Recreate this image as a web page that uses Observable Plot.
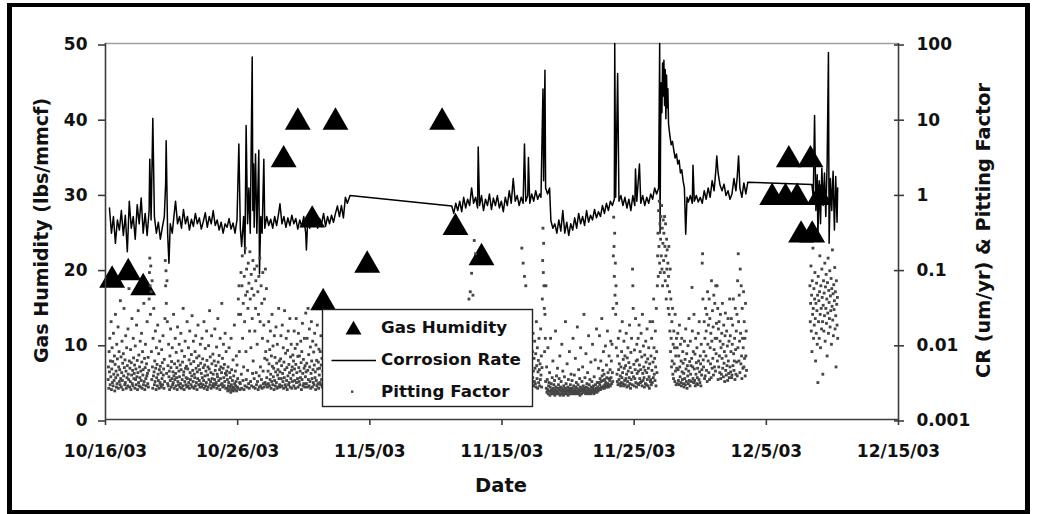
<!DOCTYPE html>
<html><head><meta charset="utf-8">
<script src="https://cdn.jsdelivr.net/npm/d3@7"></script>
<script src="https://cdn.jsdelivr.net/npm/@observablehq/plot@0.6"></script>
<style>
body{margin:0;background:#fff;}
#wrap{position:relative;width:1037px;height:514px;overflow:hidden;background:#fff;}
#chart{position:absolute;left:0;top:0;}
#frame{position:absolute;left:7px;top:3px;width:1023px;height:511px;border-style:solid;border-color:#000;border-width:4px 5px 4px 5px;box-sizing:border-box;pointer-events:none;}
</style></head><body>
<div id="wrap"><div id="chart"></div><div id="frame"></div></div>
<script>
// ---------- data ----------
// days are offsets from 10/16/03
const xTickDays = [0, 10, 20, 30, 40, 50, 60];
const xTickLabels = ["10/16/03","10/26/03","11/5/03","11/15/03","11/25/03","12/5/03","12/15/03"];
const leftTicks = [0, 10, 20, 30, 40, 50];
const rightTickLabels = ["0.001","0.01","0.1","1","10","100"];
const rightTickValues = [0.001, 0.01, 0.1, 1, 10, 100];

// Gas Humidity (lbs/mmcf)
const gasDay   = [0.5, 1.72, 2.85, 13.48, 14.55, 15.64, 16.47, 17.4, 19.8, 25.47, 26.48, 28.45, 50.44, 51.45, 51.7, 52.33, 52.63, 53.34, 53.47, 54.02];
const gasValue = [19, 20, 18, 35, 40, 27, 16, 40, 21, 40, 26, 22, 30, 30, 35, 30, 25, 35, 25, 30];

// Corrosion Rate (um/yr): [day, value]
const corrosion = [
[0.3,0.65],[0.45,0.3],[0.6,0.5],[0.75,0.22],[0.9,0.45],[1.05,0.33],[1.2,0.6],[1.35,0.28],[1.5,0.52],[1.65,0.17],[1.8,0.8],[1.95,0.35],[2.1,0.5],[2.25,0.25],[2.4,0.72],[2.55,0.4],[2.7,0.88],[2.85,0.3],[3.0,0.55],[3.15,0.28],[3.3,0.6],[3.35,2.9],[3.45,0.45],[3.58,10.1],[3.7,0.5],[3.85,0.3],[4.0,0.42],[4.15,0.25],[4.3,0.36],[4.45,0.5],[4.55,1.37],[4.59,5.1],[4.7,0.3],[4.8,0.12],[4.9,0.4],[5.05,0.3],[5.2,0.55],[5.3,0.8],[5.45,0.4],[5.6,0.5],[5.75,0.35],[5.9,0.62],[6.05,0.4],[6.2,0.5],[6.35,0.33],[6.5,0.46],[6.65,0.37],[6.8,0.55],[6.95,0.4],[7.1,0.48],[7.25,0.34],[7.4,0.43],[7.55,0.56],[7.7,0.36],[7.85,0.5],[8.0,0.4],[8.15,0.6],[8.3,0.38],[8.45,0.45],[8.6,0.33],[8.75,0.42],[8.9,0.3],[9.05,0.4],[9.2,0.36],[9.35,0.47],[9.5,0.34],[9.65,0.41],[9.8,0.3],[9.95,0.45],[10.09,4.6],[10.2,0.35],[10.3,0.2],[10.45,0.5],[10.55,0.16],[10.64,8.1],[10.75,0.4],[10.85,1.2],[10.95,0.3],[11.1,66],[11.15,0.6],[11.2,2.5],[11.25,0.36],[11.35,3.4],[11.45,0.3],[11.6,3.8],[11.65,0.087],[11.75,0.5],[11.85,0.3],[11.98,2.9],[12.05,0.35],[12.2,0.5],[12.35,0.38],[12.5,0.46],[12.65,0.35],[12.8,0.5],[12.95,0.38],[13.1,0.55],[13.2,0.74],[13.35,0.4],[13.5,0.5],[13.65,0.36],[13.8,0.48],[13.95,0.38],[14.1,0.52],[14.25,0.4],[14.4,0.47],[14.55,0.34],[14.7,0.45],[14.85,0.37],[15.0,0.5],[15.15,0.3],[15.2,0.18],[15.3,0.45],[15.45,0.35],[15.6,0.55],[15.75,0.38],[15.9,0.5],[16.05,0.35],[16.2,0.47],[16.35,0.4],[16.5,0.55],[16.65,0.37],[16.8,0.5],[16.95,0.4],[17.1,0.52],[17.25,0.42],[17.4,0.55],[17.55,0.69],[17.7,0.5],[17.85,0.7],[18.0,0.48],[18.15,0.9],[18.3,0.75],[18.5,0.95],
[26.2,0.69],[26.35,0.55],[26.5,0.75],[26.65,0.6],[26.8,0.8],[26.95,0.58],[27.1,0.9],[27.25,0.65],[27.4,0.85],[27.55,0.7],[27.7,1.2],[27.85,0.75],[28.0,0.9],[28.15,0.65],[28.2,4.2],[28.3,0.7],[28.45,0.95],[28.6,0.6],[28.75,0.85],[28.9,0.7],[29.05,1.0],[29.2,0.62],[29.35,0.88],[29.5,0.7],[29.65,0.95],[29.8,0.65],[29.95,0.8],[30.1,0.58],[30.25,0.9],[30.4,0.7],[30.55,1.1],[30.7,0.75],[30.85,1.6],[31.0,0.8],[31.15,0.95],[31.3,0.7],[31.45,0.9],[31.6,0.75],[31.7,4.6],[31.8,0.8],[31.95,0.95],[32.0,3.05],[32.1,0.75],[32.25,1.0],[32.4,0.8],[32.55,1.1],[32.7,0.85],[32.85,1.0],[32.95,0.9],[33.05,8.6],[33.1,24.8],[33.15,1.5],[33.25,44],[33.3,1.2],[33.45,1.0],[33.6,1.2],[33.7,0.44],[33.85,0.35],[34.0,0.4],[34.15,0.3],[34.3,0.45],[34.45,0.32],[34.6,0.6],[34.75,0.3],[34.9,0.42],[35.05,0.28],[35.2,0.4],[35.35,0.33],[35.5,0.48],[35.65,0.35],[35.8,0.55],[35.95,0.4],[36.1,0.5],[36.25,0.38],[36.4,0.6],[36.55,0.42],[36.7,0.52],[36.85,0.45],[37.0,0.62],[37.15,0.48],[37.3,0.58],[37.45,0.5],[37.6,0.7],[37.75,0.55],[37.9,0.75],[38.05,0.6],[38.2,0.8],[38.35,0.7],[38.5,0.85],[38.53,100],[38.6,0.9],[38.75,40],[38.85,0.8],[39.0,0.95],[39.15,0.7],[39.3,0.9],[39.45,0.65],[39.6,0.85],[39.75,0.6],[39.9,0.95],[40.05,0.7],[40.1,2.15],[40.2,0.8],[40.4,2.5],[40.5,0.75],[40.65,0.95],[40.8,0.7],[40.95,0.9],[41.1,0.75],[41.25,1.0],[41.4,0.85],[41.55,1.2],[41.7,1.0],[41.85,1.2],[41.93,100],[41.96,0.3],[42.0,6.3],[42.05,30],[42.1,12],[42.15,55],[42.2,20],[42.25,60],[42.3,15],[42.35,45],[42.4,10],[42.45,38],[42.5,14],[42.55,25],[42.6,8.5],[42.7,6],[42.8,4.5],[42.9,5],[43.0,3.8],[43.1,3],[43.2,3.4],[43.3,2.5],[43.4,2.8],[43.5,1.9],[43.6,2.1],[43.7,1.5],[43.8,1.2],[43.9,0.29],[44.0,0.9],[44.1,0.78],[44.25,0.95],[44.4,0.75],[44.45,2.4],[44.55,0.8],[44.7,0.95],[44.85,0.78],[45.0,0.9],[45.15,0.75],[45.3,1.1],[45.45,0.85],[45.6,1.2],[45.75,0.9],[45.9,1.5],[46.05,1.1],[46.2,2.3],[46.25,3.2],[46.35,1.9],[46.5,1.3],[46.65,1.1],[46.8,1.35],[46.95,0.95],[47.1,1.1],[47.25,0.85],[47.4,1.0],[47.55,1.6],[47.7,1.1],[47.8,1.7],[47.9,3.2],[48.0,1.2],[48.15,0.9],[48.3,1.4],[48.45,1.0],[48.6,1.43],
[53.45,1.33],[53.55,0.9],[53.65,11],[53.75,0.6],[53.85,1.8],[53.9,0.27],[54.0,1.5],[54.1,0.4],[54.2,2.2],[54.3,0.7],[54.4,1.9],[54.5,0.5],[54.6,2.5],[54.7,76],[54.75,0.22],[54.85,1.6],[54.95,0.6],[55.05,2.0],[55.15,0.33],[55.25,1.7],[55.35,0.42],[55.4,1.2]
];

// Pitting Factor, in thousandths (x 0.001), regular samples
const pitting1 = [ // from day 0.2, every 0.025 day
3.4,5,2.6,8,4.3,12,2.9,6,3.7,20,2.5,4.7,9,3.1,5.9,2.8,14,4,3.3,7,2.4,5.4,25,3.6,4.4,2.7,10,3,6.4,3.9,17,2.6,5,8,3.2,4.6,2.9,38,3.5,6.8,
2.7,4.2,11,3.3,5.6,2.5,7.5,3.8,30,4.9,2.9,6.2,3.1,13,4.4,2.6,9,3.6,5.2,2.8,16,4,3.4,55,6,2.7,4.8,3.2,8.5,2.5,5.7,3.9,22,3,4.5,2.8,12,6.6,3.5,4.1,
5.3,2.6,9.5,3.4,4.7,2.9,18,3.7,6.1,2.5,4.2,28,3.1,7.2,2.8,5,3.6,11,2.7,4.4,3.3,14,5.8,2.6,8,3.9,4.6,2.9,35,3.2,6.5,2.5,4.9,10,3.5,2.8,5.5,3.8,20,4.1,
3,6.7,2.7,4.5,40,90,140,60,25,110,50,8,3.4,70,5,2.6,12,3.8,30,4.3,2.9,6,3.2,15,4.8,2.5,9,3.6,5.4,2.8,18,4,3.3,7.5,2.6,4.6,11,3.1,5.1,2.9,
4.2,2.7,8.5,3.5,5.7,2.9,13,3.9,4.7,2.6,6.3,3.2,22,130,60,95,35,4.1,70,20,3,5.2,2.8,10,3.7,4.4,2.5,7,3.3,16,4.9,2.7,5.9,3.5,9,2.9,4.3,3.1,25,3.8,
2.6,5.5,3.4,12,4.1,2.8,7.8,3.6,4.9,2.5,17,3.2,6,2.9,4.4,10,3.7,2.7,5.3,3,14,4.6,2.6,8.2,3.4,5.8,2.8,30,3.9,4.3,2.5,6.9,3.2,11,4.8,2.9,3.6,5.1,2.7,20,
3.5,4.7,2.8,9,3.1,6.2,2.6,15,4.2,3.4,5.5,2.9,7.3,3.8,24,2.7,4.5,3.2,11,5.9,2.6,4,3.6,8,2.8,13,4.8,3.1,6.6,2.5,4.3,3.5,18,5.2,2.9,7,3.3,4.6,2.7,10,
5.6,3,4.1,2.7,12,3.6,6.4,2.9,4.9,3.3,20,2.6,5.3,3.8,8.8,2.8,4.4,3.1,15,6.1,2.5,3.9,5,2.7,9.6,3.4,4.7,28,2.9,6.8,3.2,4.2,2.6,13,5.5,3.5,2.8,7.4,4,3,
2.7,6,3.4,16,4.5,2.9,5.2,3.1,9.2,2.6,4,3.7,22,5.8,2.8,3.3,7.1,4.6,2.5,12,3.5,5,2.9,4.2,35,3,6.5,2.7,4.8,10,3.6,2.8,5.4,3.2,14,4.1,2.6,8,3.9,4.4,
2.6,3.4,2.4,5,2.8,3.1,9,2.5,4.2,2.7,3.6,2.3,12,2.9,4.6,2.5,3.3,2.7,6.2,2.4,3.8,2.6,18,3,2.5,4.4,2.8,3.2,7,2.4,5.3,2.7,3.5,2.6,40,25,60,8,3.1,2.5,
3,25,90,4,2.6,60,150,12,3.3,35,5,2.5,80,20,2.8,190,45,8,3.4,100,2.7,50,4.5,30,120,3,65,2.6,15,170,40,3.2,9,85,2.8,55,22,4.1,130,6,
2.7,45,3.5,100,15,2.6,30,70,4.2,2.9,110,10,3.2,50,2.5,25,80,3.8,2.7,140,20,5,2.8,60,3.4,35,2.6,12,90,4.4,3,18,2.7,40,6.5,3.1,100,8,2.9,55,
3.6,6.2,2.7,11,4.4,3,20,5.5,2.8,8.5,3.4,15,4,2.6,7,3.2,25,5.1,2.9,9.5,3.7,4.8,2.5,13,3.3,6.7,2.8,4.3,17,3.1,5.6,2.6,10,3.9,4.6,2.7,30,3.5,6,2.9,
4.3,2.7,6.4,13,3.5,5.2,2.8,18,4.1,3.2,9,2.6,5.8,3.6,28,4.6,2.9,7.6,2.7,12,3.3,4.9,2.5,8.3,3.8,15,2.9,5.4,3.1,4.2,22,2.7,6.8,3.5,10,4.5,2.6,5,3.2,7.2,
3.9,6,2.8,15,4.7,3.3,8.8,2.6,5.4,22,3.1,4.2,10,3.5,6.9,2.7,14,4.9,3.2,7,2.9,4.4,3.6,11,5.7,2.5,8,3.4,19,4.1,2.8,6.3,3,4.8,12,2.7,5.2,3.7,26,4.3,
3,5.6,12,2.7,4.5,30,3.4,7.3,2.8,16,5,3.2,9.2,2.6,4.1,20,6,3.5,2.7,11,4.6,3.1,7.9,2.9,5.3,14,3.6,4.3,2.5,9.8,3.3,6.1,2.8,18,4.7,3,5.8,2.6,8.6,3.9,
4.8,3.1,8,2.9,13,5.3,3.4,6.5,2.7
];
const pitting1b = [ // from day 16.45, every 0.05 day
4.4,6.1,2.9,12,3.7,5,20,3.1,8.3,2.8,4.6,14,3.3,6.7,2.7,18,4.2,3,9.6,5.4,3.5,7,3.2,11,4.5,2.9,6,3.8,15,4.1,2.6,8,5.2,3.4,10,2.8,4.7,13,3.6,5.5
];
const pitting2 = [ // from day 26.3, every 0.1 day
4,8,3,15,5,2.8,10,3.5,6,20,
3.2,7,40,50,88,45,240,160,12,5,
4.4,9,3,14,6,2.9,11,4,7,3.6,
18,5,3.1,8,4.6,12,2.8,6,25,3.4,
5.5,3,10,4.2,16,2.9,7,3.8,13,5,
3.3,20,190,120,80,60,9,4,12,3.5
];
const pitting3 = [ // from day 32.25, every 0.025 day
5,2.9,8,3.6,14,4.4,2.8,6.5,3.2,11,4.8,3,7.5,2.7,20,5.2,3.5,9,2.6,4.3,6.1,3.1,12,4.6,2.8,5.5,3.4,16,3.9,7,2.7,4.9,40,130,350,90,220,60,30,8,
25,12,3.2,60,2.6,5,2.3,3.4,2.5,9,2.2,2.8,3.1,2.4,4.2,2.1,2.7,12,2.3,3,2.5,2.2,3.6,2.4,6,2.6,2.2,2.9,2.3,3.3,2.1,2.5,15,2.7,2.3,3.8,2.4,2.2,4.8,2.6,
2.3,2.9,2.2,3.5,2.5,7,2.1,2.7,2.4,3.2,2.2,10,2.6,2.3,4.4,2.5,2.1,2.8,2.4,3.7,2.2,2.6,20,2.3,3,2.5,2.2,5.5,2.4,2.7,2.1,3.4,2.5,2.3,8,2.6,2.2,2.9,2.4,4,
2.5,2.2,3.3,2.6,2.3,12,2.4,2.8,2.2,3.9,2.5,2.3,6.5,2.7,2.2,3.1,2.4,2.6,17,2.3,2.9,2.2,4.6,2.5,2.3,3.5,2.1,2.7,9,2.4,2.6,2.2,3.2,2.5,5,2.3,2.8,2.4,25,2.6,
2.3,3.6,2.5,2.2,7.5,2.7,2.4,3,2.3,4.2,2.6,2.2,13,2.5,2.9,2.3,3.4,2.4,2.2,5.8,2.7,2.5,3.2,2.3,10,2.6,2.4,2.8,2.2,3.7,2.5,2.3,6.2,2.9,2.4,2.6,16,2.3,3.1,2.5,
2.7,2.4,4.8,3.1,2.6,13,2.9,3.5,2.5,6,3.2,2.7,22,3.8,2.6,4.5,3.3,8,2.8,4,2.6,3.4,2.9,9.5,3.1,2.7,5.3,3.6,2.8,15,3,4.2,2.7,3.5,7,2.9,3.3,4.6,2.8,11,
3.6,6,3,10,4.2,3.2,30,150,490,200,80,300,45,120,25,60,9,35,4,3.2,7,2.9,12,4.6,3.4,5.5,3,15,3.8,2.8,5,3.1,8,3.6,20,4.2,3,6.3,2.8,11,
4.8,3.3,7,2.9,5.2,3.5,14,4,2.7,6.6,3.2,9,4.4,2.8,5.7,3.6,18,3,4.9,2.6,7.8,3.4,12,4.2,2.9,100,60,30,3.7,5.4,2.8,8.4,3.5,4.6,22,3.1,6,2.7,10,4.1,
6.2,3,12,4.4,2.9,18,5.3,3.5,8,3.1,4.6,14,3.2,6.8,2.8,25,4.1,3.3,9.5,5,3.6,2.7,7.2,4.5,3,11,5.8,2.9,4.2,16,3.4,6.4,2.8,4.8,9,3.7,2.6,5.5,20,3.2,
3.4,7,2.9,12,4.5,3.1,20,5.8,3.6,40,9,4,6.5,3.3,15,5,2.8,30,8,4.2,60,150,300,80,600,200,800,120,400,90,250,500,150,700,100,350,60,220,450,130,
300,90,500,200,70,400,150,40,250,100,180,60,120,30,80,200,25,50,15,100,8,40,12,5,20,6,30,4,10,3.5,15,5.5,9,3.2,25,4.4,7,2.9,12,4.8,
9,3,14,4.6,3.3,7,2.9,18,5,3.7,10,3.1,6,2.8,12,4.3,3.4,8,5.6,3,4.1,2.7,11,3.5,6.3,2.9,16,4.7,3.2,7.5,2.6,5.2,3.8,9.6,3,4.4,22,3.3,5.9,2.8,
11,4,5.2,3.2,6.5,57,15,5,3.5,8,3.1,25,4.7,3.3,7.4,2.8,12,4,5.7,3,9,3.6,4.8,2.9,14,6,3.4,20,4.3,3.1,7,5.5,2.8,10,3.9,4.6,120,160,40,6.2,
5,8,20,3.5,12,3.8,30,7,15,4.5,25,3.2,50,10,6,18,4.2,40,3.4,22,9,5.5,14,3.6,70,11,4.8,28,6.5,17,3.9,45,8.5,5,35,12,4.4,60,7.5,19,
12,60,6,30,3.4,16,5,20,7,4.2,11,25,3.5,9,4,14,6.5,35,4.8,10,3.7,18,5.6,8,3.2,13,26,4.5,7,3.9,15,5.2,9.5,3.3,22,6,4.1,11,3.6,40,
5,13,4.3,8,22,3.6,3.9,10,18,5.2,40,7.5,4.5,6,12,3.4,30,8.5,4,15,5.8,25,3.8,70,9,160,20,6,45,11,4.2,100,14,5.5,60,7,3.5,30,12,4.8,
9,50,5,20,6.5,12,3.8,35,7,15,4.5
];
const pitting4 = [ // from day 53.3, every 0.025 day
60,20,35,110,15,45,8,70,25,190,30,12,55,18,40,90,22,6,35,14,
65,28,10,45,3.1,80,20,38,12,50,150,25,9,60,30,16,100,42,20,4,
33,70,15,48,24,120,11,58,30,85,19,40,7,66,26,140,14,52,36,22,
95,17,44,28,75,10,55,32,180,21,47,13,62,29,38,105,16,50,24,5,
70,34,18,42,12
];
const pittingSegments = [
  {start: 0.2, step: 0.025, values: pitting1},
  {start: 16.45, step: 0.05, values: pitting1b},
  {start: 26.3, step: 0.1, values: pitting2},
  {start: 32.25, step: 0.025, values: pitting3},
  {start: 53.3, step: 0.025, values: pitting4}
];

// ---------- build ----------
const T0 = Date.UTC(2003, 9, 16);
const DAY = 864e5;
const dt = d => new Date(T0 + d * DAY);
// secondary (log) axis mapped onto the 0..50 primary axis: 0.001 -> 0, 100 -> 50
const logPos = v => (Math.log10(v) + 3) * 10;

const gasData = gasDay.map((d, i) => ({date: dt(d), value: gasValue[i]}));
const crData = corrosion.map(([d, v]) => ({date: dt(d), value: v}));
const pfData = pittingSegments.flatMap(s => s.values.map((v, i) => ({date: dt(s.start + i * s.step), value: v / 1000})));
const xTicks = xTickDays.map(dt);
const rightTickPos = rightTickValues.map(logPos);

const FONT = "DejaVu Sans";
const chart = Plot.plot({
  width: 1037, height: 514,
  marginLeft: 105, marginRight: 139, marginTop: 43, marginBottom: 95,
  style: {fontFamily: FONT, fontWeight: "bold", fontSize: "17px", color: "#111", background: "transparent", overflow: "visible"},
  x: {type: "utc", domain: [dt(0), dt(60)]},
  y: {domain: [0, 50]},
  marks: [
    Plot.ruleY([50], {stroke: "#a0a0a0", strokeWidth: 1.5}),
    Plot.dot(gasData, {x: "date", y: "value", symbol: "triangle", r: 9.6, fill: "#000", stroke: "none", dy: 3.6}),
    Plot.line(crData, {x: "date", y: d => logPos(d.value), stroke: "#000", strokeWidth: 1.5}),
    Plot.dot(pfData, {x: "date", y: d => logPos(d.value), symbol: "square", r: 1.6, fill: "#454545", stroke: "none"}),
    Plot.ruleX([dt(0)], {stroke: "#3c3c3c", strokeWidth: 1.6}),
    Plot.ruleX([dt(60)], {stroke: "#3c3c3c", strokeWidth: 1.6}),
    Plot.ruleY([0], {stroke: "#3c3c3c", strokeWidth: 1.6}),
    Plot.axisY({anchor: "left", ticks: leftTicks, tickSize: 7, tickPadding: 11, dy: 1.5, tickFormat: d => String(d), label: null, strokeWidth: 1.6, stroke: "#3c3c3c"}),
    Plot.axisY({anchor: "right", ticks: rightTickPos, tickSize: 10, dx: -5, tickPadding: 13, dy: 1.5,
      tickFormat: d => rightTickLabels[rightTickPos.indexOf(d)], label: null, strokeWidth: 1.6, stroke: "#3c3c3c"}),
    Plot.axisX({ticks: xTicks, tickSize: 6, tickPadding: 19.5, tickFormat: d => xTickLabels[xTicks.findIndex(t => +t === +d)], label: null, strokeWidth: 1.6, stroke: "#3c3c3c"}),
    Plot.text(["Date"], {frameAnchor: "bottom", textAnchor: "middle", dx: -1, dy: 72.5, lineAnchor: "bottom", fontSize: 19.5, fill: "#111"}),
    Plot.text(["Gas Humidity (lbs/mmcf)"], {frameAnchor: "left", textAnchor: "middle", rotate: -90, dx: -58, dy: -1, lineAnchor: "bottom", fontSize: 19, fill: "#111"}),
    Plot.text(["CR (um/yr) & Pitting Factor"], {frameAnchor: "right", textAnchor: "middle", rotate: -90, dx: 91, dy: -1, lineAnchor: "bottom", fontSize: 19.3, fill: "#111"})
  ]
});
document.getElementById("chart").appendChild(chart);

// ---------- legend ----------
const svg = d3.select(chart);
const lg = svg.append("g").attr("font-family", FONT).attr("font-weight", "bold").attr("font-size", 16.7).attr("fill", "#111").attr("text-anchor", "start");
lg.append("rect").attr("x", 322.5).attr("y", 309.5).attr("width", 210).attr("height", 97).attr("fill", "#fff").attr("stroke", "#222").attr("stroke-width", 1.4);
lg.append("path").attr("transform", "translate(353.5,330)").attr("d", d3.symbol(d3.symbolTriangle, 110)()).attr("fill", "#000");
lg.append("line").attr("x1", 331.5).attr("x2", 376).attr("y1", 360.5).attr("y2", 360.5).attr("stroke", "#000").attr("stroke-width", 1.3);
lg.append("rect").attr("x", 351).attr("y", 390.5).attr("width", 2.4).attr("height", 2.4).attr("fill", "#454545");
const entries = ["Gas Humidity", "Corrosion Rate", "Pitting Factor"];
const baselines = [332.8, 365.2, 396.8];
entries.forEach((t, i) => lg.append("text").attr("x", 381).attr("y", baselines[i]).text(t));
</script>
</body></html>
